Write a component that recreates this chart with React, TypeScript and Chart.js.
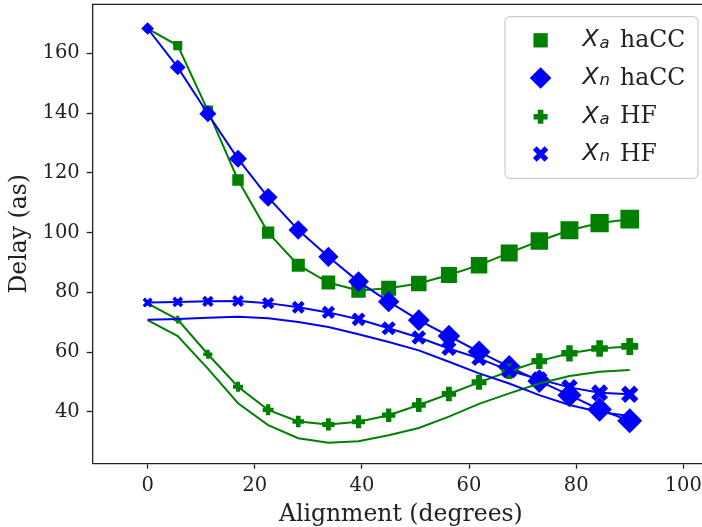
import React, { useEffect, useRef } from 'react';
import { Chart, registerables } from 'chart.js';

Chart.register(...registerables);

// ---- data ----
const alignment = [0, 5.625, 11.25, 16.875, 22.5, 28.125, 33.75, 39.375, 45, 50.625, 56.25, 61.875, 67.5, 73.125, 78.75, 84.375, 90];
const xaHaCC = [168.3, 162.6, 140.8, 117.6, 100.0, 89.1, 83.3, 80.6, 81.4, 83.0, 85.8, 89.1, 93.2, 97.2, 100.8, 103.2, 104.5];
const xnHaCC = [168.3, 155.3, 139.8, 124.7, 111.8, 100.9, 91.9, 83.6, 76.9, 70.7, 65.4, 60.1, 55.1, 50.3, 45.6, 40.8, 37.0];
const xaHF = [76.3, 70.9, 59.3, 48.4, 40.7, 36.8, 35.8, 36.7, 38.9, 42.3, 46.0, 49.9, 53.6, 57.0, 59.6, 61.2, 61.9];
const xnHF = [76.6, 76.8, 77.0, 77.1, 76.4, 75.0, 73.3, 71.0, 68.0, 64.9, 61.2, 57.9, 53.8, 50.9, 48.2, 46.4, 45.9];
const xaSmooth = [70.7, 65.4, 54.5, 42.9, 35.6, 31.2, 29.7, 30.2, 32.2, 34.6, 38.4, 42.7, 46.2, 49.5, 52.0, 53.4, 54.0];
const xnSmooth = [70.8, 71.1, 71.5, 71.8, 71.3, 70.1, 68.4, 66.0, 63.4, 60.6, 56.8, 52.9, 49.5, 45.6, 42.3, 40.0, 38.6];
const xTicks = [0, 20, 40, 60, 80, 100];
const yTicks = [40, 60, 80, 100, 120, 140, 160];
const legendSub = ['a', 'n', 'a', 'n'];
const legendRest = ['haCC', 'haCC', 'HF', 'HF'];

// ---- styles ----
const GREEN = '#008000';
const BLUE = '#0000ff';
const INK = '#222222';
const SERIF = '"DejaVu Serif", serif';
const SANS = '"DejaVu Sans", sans-serif';
const PLUS_T = 0.4;
const X_T = 0.34;

const frac = (i: number) => i / (alignment.length - 1);
const sqW = (i: number) => 6 + 12.7 * Math.sqrt(frac(i));
const dmW = (i: number) => 12.7 + 12.3 * Math.sqrt(frac(i));
const plW = (i: number) => 4.8 + 12.2 * Math.sqrt(frac(i));
const xxW = (i: number) => 10 + 7.3 * Math.pow(frac(i), 0.8);

const pts = (ys: number[]) => alignment.map((x, i) => ({ x, y: ys[i] }));

const NO_PAD = { left: 0, top: 0, right: 0, bottom: 0 };
function zeroPad(s: any) {
  s.paddingTop = 0;
  s.paddingBottom = 0;
  s.paddingLeft = 0;
  s.paddingRight = 0;
}

function drawMarker(ctx: CanvasRenderingContext2D, kind: string, x: number, y: number, w: number, color: string) {
  ctx.save();
  ctx.fillStyle = color;
  ctx.strokeStyle = color;
  ctx.lineCap = 'butt';
  if (kind === 'square') {
    ctx.fillRect(x - w / 2, y - w / 2, w, w);
  } else if (kind === 'diamond') {
    ctx.beginPath();
    ctx.moveTo(x - w / 2, y);
    ctx.lineTo(x, y - w / 2);
    ctx.lineTo(x + w / 2, y);
    ctx.lineTo(x, y + w / 2);
    ctx.closePath();
    ctx.fill();
  } else if (kind === 'plus') {
    ctx.lineWidth = w * PLUS_T;
    ctx.beginPath();
    ctx.moveTo(x - w / 2, y);
    ctx.lineTo(x + w / 2, y);
    ctx.moveTo(x, y - w / 2);
    ctx.lineTo(x, y + w / 2);
    ctx.stroke();
  } else {
    const t = w * X_T;
    const a = (w - 0.707 * t) / 2;
    ctx.lineWidth = t;
    ctx.beginPath();
    ctx.moveTo(x - a, y - a);
    ctx.lineTo(x + a, y + a);
    ctx.moveTo(x + a, y - a);
    ctx.lineTo(x - a, y + a);
    ctx.stroke();
  }
  ctx.restore();
}

const framePlugin = {
  id: 'frameAndLegend',
  beforeLayout(chart: any) {
    Object.values(chart.scales).forEach((s: any) => {
      s.getPadding = () => NO_PAD;
    });
  },
  afterDatasetsDraw(chart: any) {
    const { ctx, chartArea } = chart;
    ctx.save();
    ctx.strokeStyle = INK;
    ctx.lineWidth = 1.3;
    ctx.beginPath();
    ctx.moveTo(chartArea.left - 0.65, chartArea.top);
    ctx.lineTo(chartArea.right + 2, chartArea.top);
    ctx.stroke();
    ctx.restore();
  },
  afterDraw(chart: any) {
    const { ctx } = chart;
    ctx.save();
    // legend frame
    const bx = 505, by = 16.7, bw = 193, bh = 161.6, r = 5;
    ctx.beginPath();
    ctx.moveTo(bx + r, by);
    ctx.arcTo(bx + bw, by, bx + bw, by + bh, r);
    ctx.arcTo(bx + bw, by + bh, bx, by + bh, r);
    ctx.arcTo(bx, by + bh, bx, by, r);
    ctx.arcTo(bx, by, bx + bw, by, r);
    ctx.closePath();
    ctx.fillStyle = 'rgba(255,255,255,0.8)';
    ctx.fill();
    ctx.strokeStyle = '#cccccc';
    ctx.lineWidth = 1.2;
    ctx.stroke();

    const rows = [40.3, 78, 116.8, 154];
    const kinds = ['square', 'diamond', 'plus', 'cross'];
    const colors = [GREEN, BLUE, GREEN, BLUE];
    const widths = [14.3, 21.7, 14, 15.3];
    rows.forEach((ry, k) => {
      drawMarker(ctx, kinds[k], 540.6, ry, widths[k], colors[k]);
      ctx.fillStyle = INK;
      ctx.textBaseline = 'alphabetic';
      ctx.textAlign = 'left';
      ctx.font = `italic 23.5px ${SANS}`;
      ctx.fillText('X', 582.5, ry + 6);
      ctx.font = `italic 16.5px ${SANS}`;
      ctx.fillText(legendSub[k], 599.5, ry + 7.3);
      ctx.font = `23.5px ${SERIF}`;
      ctx.fillText(legendRest[k], 620, ry + 6.5);
    });
    ctx.restore();
  },
};

export default function App() {
  const ref = useRef<HTMLCanvasElement | null>(null);

  useEffect(() => {
    document.body.style.margin = '0';
    document.body.style.overflow = 'hidden';
    const canvas = ref.current;
    if (!canvas) return;

    const chart = new Chart(canvas, {
      type: 'line',
      data: {
        datasets: [
          {
            label: 'Xa haCC',
            data: pts(xaHaCC),
            borderColor: GREEN,
            backgroundColor: GREEN,
            borderWidth: 2,
            pointStyle: 'rect',
            pointRadius: (c: any) => sqW(c.dataIndex) / Math.SQRT2,
            pointBorderWidth: 0,
            pointBackgroundColor: GREEN,
            order: 6,
          },
          {
            label: 'Xn haCC',
            data: pts(xnHaCC),
            borderColor: BLUE,
            backgroundColor: BLUE,
            borderWidth: 2,
            pointStyle: 'rectRot',
            pointRadius: (c: any) => dmW(c.dataIndex) / 2,
            pointBorderWidth: 0,
            pointBackgroundColor: BLUE,
            order: 5,
          },
          {
            label: 'Xa HF',
            data: pts(xaHF),
            borderColor: GREEN,
            backgroundColor: GREEN,
            borderWidth: 2,
            pointStyle: 'cross',
            pointRadius: (c: any) => plW(c.dataIndex) / 2,
            pointBorderWidth: (c: any) => plW(c.dataIndex) * PLUS_T,
            pointBorderColor: GREEN,
            order: 4,
          },
          {
            label: 'Xn HF',
            data: pts(xnHF),
            borderColor: BLUE,
            backgroundColor: BLUE,
            borderWidth: 2,
            pointStyle: 'crossRot',
            pointRadius: (c: any) => {
              const w = xxW(c.dataIndex);
              return (w - 0.707 * X_T * w) / 1.414;
            },
            pointBorderWidth: (c: any) => xxW(c.dataIndex) * X_T,
            pointBorderColor: BLUE,
            order: 3,
          },
          {
            label: 'Xa smooth',
            data: pts(xaSmooth),
            borderColor: GREEN,
            borderWidth: 2,
            pointRadius: 0,
            order: 2,
          },
          {
            label: 'Xn smooth',
            data: pts(xnSmooth),
            borderColor: BLUE,
            borderWidth: 2,
            pointRadius: 0,
            order: 1,
          },
        ],
      },
      options: {
        responsive: false,
        animation: false,
        events: [],
        devicePixelRatio: 1,
        layout: { autoPadding: false, padding: { top: 4.3, right: 3, left: 0, bottom: 0 } },
        plugins: {
          legend: { display: false },
          tooltip: { enabled: false },
        },
        elements: { line: { tension: 0 } },
        scales: {
          x: {
            type: 'linear',
            min: -10.25,
            max: 104.8,
            afterBuildTicks: (s: any) => {
              s.ticks = xTicks.map((v) => ({ value: v }));
            },
            afterFit: (s: any) => {
              s.height = 63.7;
              zeroPad(s);
            },
            grid: {
              display: true,
              drawOnChartArea: false,
              drawTicks: true,
              tickLength: 5.5,
              tickColor: INK,
              tickWidth: 1.3,
            },
            border: { display: true, color: INK, width: 1.3 },
            ticks: {
              color: INK,
              font: { family: SERIF, size: 19.5 },
              padding: 5.2,
              maxRotation: 0,
              autoSkip: false,
            },
            title: {
              display: true,
              text: 'Alignment (degrees)',
              color: INK,
              font: { family: SERIF, size: 23.5, lineHeight: 1 },
              padding: { top: 0, bottom: 0.35 },
            },
          },
          y: {
            type: 'linear',
            min: 22.8,
            max: 176.4,
            afterBuildTicks: (s: any) => {
              s.ticks = yTicks.map((v) => ({ value: v }));
            },
            afterFit: (s: any) => {
              s.width = 92.7;
              zeroPad(s);
            },
            grid: {
              display: true,
              drawOnChartArea: false,
              drawTicks: true,
              tickLength: 6,
              tickColor: INK,
              tickWidth: 1.3,
            },
            border: { display: true, color: INK, width: 1.3 },
            ticks: {
              color: INK,
              font: { family: SERIF, size: 19.5 },
              padding: 7,
              autoSkip: false,
            },
            title: {
              display: true,
              text: 'Delay (as)',
              color: INK,
              font: { family: SERIF, size: 23.5, lineHeight: 1 },
              padding: { top: 8.5, bottom: 0 },
            },
          },
        },
      },
      plugins: [framePlugin],
    } as any);

    return () => chart.destroy();
  }, []);

  return (
    <div style={{ width: 702, height: 527, overflow: 'hidden', position: 'relative' }}>
      <canvas ref={ref} width={712} height={527} style={{ display: 'block' }} />
    </div>
  );
}
